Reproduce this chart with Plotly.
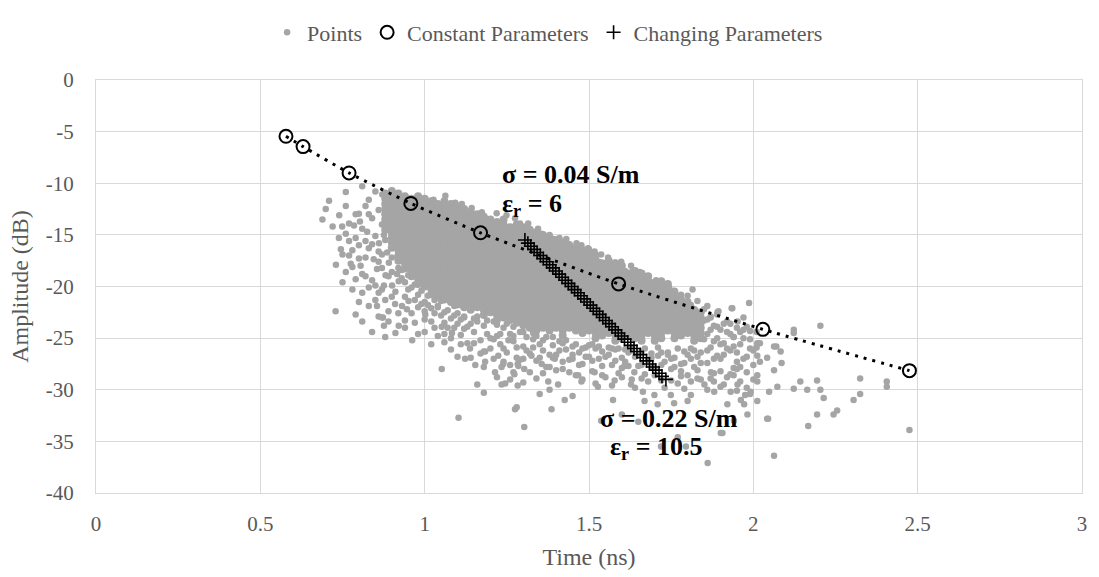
import plotly.graph_objects as go

# ---------------- data ----------------
# Constant-parameter model points
constant_x = [0.578, 0.630, 0.770, 0.958, 1.170, 1.590, 2.029, 2.475]
constant_y = [-5.45, -6.45, -9.0, -11.95, -14.8, -19.75, -24.15, -28.15]

# Changing-parameter model points
changing_x = [1.305, 1.314, 1.323, 1.333, 1.342, 1.352, 1.361, 1.371, 1.380, 1.390, 1.399, 1.409,
              1.418, 1.428, 1.437, 1.447, 1.456, 1.466, 1.475, 1.485, 1.494, 1.504, 1.513, 1.523,
              1.532, 1.542, 1.551, 1.561, 1.570, 1.580, 1.589, 1.599, 1.608, 1.618, 1.627, 1.637,
              1.646, 1.656, 1.665, 1.675, 1.684, 1.694, 1.703, 1.713, 1.722, 1.734]
changing_y = [-15.5, -15.8, -16.1, -16.4, -16.7, -17.0, -17.3, -17.6, -17.9, -18.2, -18.5, -18.8,
              -19.1, -19.4, -19.7, -20.0, -20.3, -20.6, -20.9, -21.2, -21.5, -21.8, -22.1, -22.4,
              -22.7, -23.0, -23.3, -23.6, -23.9, -24.2, -24.5, -24.8, -25.1, -25.4, -25.7, -26.0,
              -26.3, -26.6, -26.9, -27.2, -27.5, -27.8, -28.1, -28.4, -28.7, -29.0]

# Measured points: dense core, read column by column
core_x = [0.88, 0.90, 0.92, 0.94, 0.96, 0.98, 1.00, 1.02, 1.04, 1.06, 1.08, 1.10, 1.12, 1.14, 1.16,
          1.18, 1.20, 1.22, 1.24, 1.26, 1.28, 1.30, 1.32, 1.34, 1.36, 1.38, 1.40, 1.42, 1.44, 1.46,
          1.48, 1.50, 1.52, 1.54, 1.56, 1.58, 1.60, 1.62, 1.64, 1.66, 1.68, 1.70, 1.72, 1.74, 1.76,
          1.78, 1.80, 1.82, 1.84]
core_y = [
    [-11,-11.5,-12,-12.5,-13,-13.5,-14,-14.5],
    [-10.75,-11.25,-11.75,-12.25,-12.75,-13.25,-13.75,-14.25,-14.75,-15.25,-15.75,-16.25],
    [-11,-11.5,-12,-12.5,-13,-13.5,-14,-14.5,-15,-15.5,-16,-16.5,-17,-17.5],
    [-11.25,-11.75,-12.25,-12.75,-13.25,-13.75,-14.25,-14.75,-15.25,-15.75,-16.25,-16.75,-17.25,-17.75,-18.25],
    [-11.5,-12,-12.5,-13,-13.5,-14,-14.5,-15,-15.5,-16,-16.5,-17,-17.5,-18,-18.5,-19],
    [-11.25,-11.75,-12.25,-12.75,-13.25,-13.75,-14.25,-14.75,-15.25,-15.75,-16.25,-16.75,-17.25,-17.75,-18.25,-18.75,-19.25,-19.75],
    [-11.5,-12,-12.5,-13,-13.5,-14,-14.5,-15,-15.5,-16,-16.5,-17,-17.5,-18,-18.5,-19,-19.5,-20],
    [-11.75,-12.25,-12.75,-13.25,-13.75,-14.25,-14.75,-15.25,-15.75,-16.25,-16.75,-17.25,-17.75,-18.25,-18.75,-19.25,-19.75,-20.25,-20.75],
    [-12,-12.5,-13,-13.5,-14,-14.5,-15,-15.5,-16,-16.5,-17,-17.5,-18,-18.5,-19,-19.5,-20,-20.5,-21],
    [-11.75,-12.25,-12.75,-13.25,-13.75,-14.25,-14.75,-15.25,-15.75,-16.25,-16.75,-17.25,-17.75,-18.25,-18.75,-19.25,-19.75,-20.25,-20.75,-21.25],
    [-12,-12.5,-13,-13.5,-14,-14.5,-15,-15.5,-16,-16.5,-17,-17.5,-18,-18.5,-19,-19.5,-20,-20.5,-21,-21.5],
    [-12.25,-12.75,-13.25,-13.75,-14.25,-14.75,-15.25,-15.75,-16.25,-16.75,-17.25,-17.75,-18.25,-18.75,-19.25,-19.75,-20.25,-20.75,-21.25,-21.75],
    [-12.5,-13,-13.5,-14,-14.5,-15,-15.5,-16,-16.5,-17,-17.5,-18,-18.5,-19,-19.5,-20,-20.5,-21,-21.5,-22],
    [-12.75,-13.25,-13.75,-14.25,-14.75,-15.25,-15.75,-16.25,-16.75,-17.25,-17.75,-18.25,-18.75,-19.25,-19.75,-20.25,-20.75,-21.25,-21.75,-22.25],
    [-13,-13.5,-14,-14.5,-15,-15.5,-16,-16.5,-17,-17.5,-18,-18.5,-19,-19.5,-20,-20.5,-21,-21.5,-22],
    [-13.25,-13.75,-14.25,-14.75,-15.25,-15.75,-16.25,-16.75,-17.25,-17.75,-18.25,-18.75,-19.25,-19.75,-20.25,-20.75,-21.25,-21.75,-22.25,-22.75],
    [-13.5,-14,-14.5,-15,-15.5,-16,-16.5,-17,-17.5,-18,-18.5,-19,-19.5,-20,-20.5,-21,-21.5,-22,-22.5],
    [-13.75,-14.25,-14.75,-15.25,-15.75,-16.25,-16.75,-17.25,-17.75,-18.25,-18.75,-19.25,-19.75,-20.25,-20.75,-21.25,-21.75,-22.25,-22.75,-23.25],
    [-13.5,-14,-14.5,-15,-15.5,-16,-16.5,-17,-17.5,-18,-18.5,-19,-19.5,-20,-20.5,-21,-21.5,-22,-22.5,-23],
    [-14.25,-14.75,-15.25,-15.75,-16.25,-16.75,-17.25,-17.75,-18.25,-18.75,-19.25,-19.75,-20.25,-20.75,-21.25,-21.75,-22.25,-22.75,-23.25],
    [-14,-14.5,-15,-15.5,-16,-16.5,-17,-17.5,-18,-18.5,-19,-19.5,-20,-20.5,-21,-21.5,-22,-22.5,-23,-23.5],
    [-14.25,-14.75,-15.25,-15.75,-16.25,-16.75,-17.25,-17.75,-18.25,-18.75,-19.25,-19.75,-20.25,-20.75,-21.25,-21.75,-22.25,-22.75,-23.25,-23.75],
    [-14.5,-15,-15.5,-16,-16.5,-17,-17.5,-18,-18.5,-19,-19.5,-20,-20.5,-21,-21.5,-22,-22.5,-23,-23.5,-24],
    [-14.75,-15.25,-15.75,-16.25,-16.75,-17.25,-17.75,-18.25,-18.75,-19.25,-19.75,-20.25,-20.75,-21.25,-21.75,-22.25,-22.75,-23.25,-23.75,-24.25],
    [-15,-15.5,-16,-16.5,-17,-17.5,-18,-18.5,-19,-19.5,-20,-20.5,-21,-21.5,-22,-22.5,-23,-23.5,-24],
    [-15.25,-15.75,-16.25,-16.75,-17.25,-17.75,-18.25,-18.75,-19.25,-19.75,-20.25,-20.75,-21.25,-21.75,-22.25,-22.75,-23.25,-23.75,-24.25],
    [-15.5,-16,-16.5,-17,-17.5,-18,-18.5,-19,-19.5,-20,-20.5,-21,-21.5,-22,-22.5,-23,-23.5,-24],
    [-15.75,-16.25,-16.75,-17.25,-17.75,-18.25,-18.75,-19.25,-19.75,-20.25,-20.75,-21.25,-21.75,-22.25,-22.75,-23.25,-23.75,-24.25,-24.75],
    [-16,-16.5,-17,-17.5,-18,-18.5,-19,-19.5,-20,-20.5,-21,-21.5,-22,-22.5,-23,-23.5,-24],
    [-16.25,-16.75,-17.25,-17.75,-18.25,-18.75,-19.25,-19.75,-20.25,-20.75,-21.25,-21.75,-22.25,-22.75,-23.25,-23.75,-24.25],
    [-16.5,-17,-17.5,-18,-18.5,-19,-19.5,-20,-20.5,-21,-21.5,-22,-22.5,-23,-23.5,-24,-24.5],
    [-16.75,-17.25,-17.75,-18.25,-18.75,-19.25,-19.75,-20.25,-20.75,-21.25,-21.75,-22.25,-22.75,-23.25,-23.75,-24.25],
    [-17,-17.5,-18,-18.5,-19,-19.5,-20,-20.5,-21,-21.5,-22,-22.5,-23,-23.5,-24,-24.5,-25],
    [-17.75,-18.25,-18.75,-19.25,-19.75,-20.25,-20.75,-21.25,-21.75,-22.25,-22.75,-23.25,-23.75,-24.25,-24.75],
    [-17.5,-18,-18.5,-19,-19.5,-20,-20.5,-21,-21.5,-22,-22.5,-23,-23.5,-24,-24.5],
    [-17.75,-18.25,-18.75,-19.25,-19.75,-20.25,-20.75,-21.25,-21.75,-22.25,-22.75,-23.25,-23.75,-24.25,-24.75,-25.25],
    [-18,-18.5,-19,-19.5,-20,-20.5,-21,-21.5,-22,-22.5,-23,-23.5,-24,-24.5,-25],
    [-18.75,-19.25,-19.75,-20.25,-20.75,-21.25,-21.75,-22.25,-22.75,-23.25,-23.75,-24.25,-24.75],
    [-18.5,-19,-19.5,-20,-20.5,-21,-21.5,-22,-22.5,-23,-23.5,-24,-24.5,-25],
    [-18.75,-19.25,-19.75,-20.25,-20.75,-21.25,-21.75,-22.25,-22.75,-23.25,-23.75,-24.25,-24.75,-25.25],
    [-19,-19.5,-20,-20.5,-21,-21.5,-22,-22.5,-23,-23.5,-24,-24.5],
    [-19.75,-20.25,-20.75,-21.25,-21.75,-22.25,-22.75,-23.25,-23.75,-24.25,-24.75,-25.25],
    [-19.5,-20,-20.5,-21,-21.5,-22,-22.5,-23,-23.5,-24,-24.5,-25],
    [-19.75,-20.25,-20.75,-21.25,-21.75,-22.25,-22.75,-23.25,-23.75,-24.25],
    [-20.5,-21,-21.5,-22,-22.5,-23,-23.5,-24,-24.5,-25],
    [-21.25,-21.75,-22.25,-22.75,-23.25,-23.75,-24.25,-24.75],
    [-21.5,-22,-22.5,-23,-23.5,-24,-24.5],
    [-22.25,-22.75,-23.25,-23.75,-24.25,-24.75,-25.25],
    [-22.5,-23,-23.5,-24,-24.5,-25],
]

# Measured points: left lobe
left_x = [0.709, 0.699, 0.689, 0.760, 0.810, 0.850, 0.871, 0.800, 0.803, 0.785, 0.749, 0.739, 0.745, 0.770,
          0.800, 0.825, 0.830, 0.861, 0.876, 0.886, 0.770, 0.775, 0.805, 0.810, 0.845, 0.855, 0.891, 0.881,
          0.916, 0.840, 0.810, 0.876, 0.901, 0.921, 0.850, 0.880, 0.855, 0.870, 0.876, 0.911, 0.931, 0.951,
          0.946, 0.911, 0.729, 0.790, 0.873, 0.921, 0.962, 1.002, 0.820, 0.840, 0.860, 0.830, 0.790, 0.760,
          0.780, 0.820, 0.860, 0.790, 0.830, 0.860, 0.900, 0.890, 0.920, 0.940, 0.820, 0.870, 0.730, 0.760,
          0.850, 0.870, 0.800,
          0.72, 0.74, 0.75, 0.76, 0.77, 0.78, 0.79, 0.80, 0.81, 0.82, 0.83, 0.84, 0.85, 0.86, 0.87, 0.88,
          0.89, 0.90, 0.91, 0.92, 0.83, 0.86, 0.89, 0.78, 0.81, 0.84, 0.88, 0.75, 0.90, 0.87]
left_y = [-11.7, -12.5, -13.5, -10.85, -10.3, -10.8, -11.1, -12.95, -13.7, -14.1, -14.2, -15.3, -16.4, -15.6,
          -16.0, -14.7, -16.3, -15.8, -15.0, -16.7, -17.0, -17.8, -18.0, -18.8, -17.35, -18.3, -17.7, -18.9,
          -18.8, -19.4, -20.6, -19.9, -19.9, -19.5, -21.3, -21.3, -21.9, -23.0, -23.8, -24.5, -21.9, -21.4,
          -22.2, -20.5, -22.4, -22.7, -23.0, -23.8, -25.2, -22.7, -12.2, -13.4, -12.6, -11.6, -13.0, -14.9,
          -16.5, -17.2, -16.6, -19.3, -20.1, -20.6, -21.0, -22.4, -22.6, -23.3, -15.6, -14.0, -17.9, -18.6,
          -15.1, -18.2, -21.5,
          -14.2, -13.1, -16.9, -12.2, -13.9, -18.1, -15.3, -17.3, -14.4, -19.0, -13.0, -15.9, -19.9, -17.6,
          -20.3, -15.5, -19.0, -17.2, -21.7, -18.2, -21.9, -22.9, -23.4, -20.3, -23.4, -24.4, -24.9, -19.6,
          -18.6, -16.9]

# Measured points: upper edge (near / above the dotted curve)
upper_x = [1.027, 1.063, 1.093, 1.113, 1.143, 1.174, 1.219, 1.249, 1.275, 1.315, 1.345, 1.356, 1.380, 1.410,
           1.431, 1.462, 1.477, 1.497, 1.517, 1.537, 1.558, 1.598, 1.628, 1.633, 1.654, 1.674, 1.684, 1.704,
           1.744, 1.760, 1.800, 1.815, 1.830, 1.860, 1.891, 1.936, 1.987, 1.870, 1.890, 1.952, 1.970, 1.940,
           2.123, 2.123, 2.204, 1.720, 1.780, 1.580, 1.500, 1.440, 1.390, 1.290,
           1.53, 1.61, 1.69, 1.77, 1.73, 1.81, 1.65]
upper_y = [-11.6, -11.2, -11.9, -12.0, -12.4, -12.8, -12.9, -13.1, -13.4, -13.9, -14.4, -14.9, -15.0, -15.3,
           -15.4, -15.8, -16.0, -16.3, -16.6, -16.9, -17.2, -17.6, -18.0, -18.5, -18.6, -19.0, -19.6, -19.4,
           -20.1, -20.4, -20.9, -20.3, -21.4, -21.9, -22.5, -22.1, -21.6, -23.0, -23.9, -23.4, -24.2, -24.9,
           -24.2, -24.5, -23.8, -20.0, -20.8, -17.7, -16.4, -15.9, -15.4, -13.9,
           -17.6, -18.5, -19.6, -21.0, -20.6, -21.8, -19.1]

# Measured points: lower band below the core
lower_x = [0.93, 0.95, 0.94, 0.96, 0.98, 0.99, 1.00, 1.01, 1.02, 1.03, 1.04, 1.05, 1.06, 1.07, 1.08, 1.09,
           1.10, 1.11, 1.12, 1.13, 1.14, 1.15, 1.16, 1.17, 1.18, 1.19, 1.20, 1.21, 1.22, 1.23, 1.24, 1.25,
           1.26, 1.27, 1.28, 1.29, 1.30, 1.31, 1.32, 1.33, 1.34, 1.35, 1.36, 1.37, 1.38, 1.39, 1.40, 1.41,
           1.42, 1.43, 1.44, 1.45, 1.46, 1.47, 1.48, 1.49, 1.50, 1.51, 1.52, 1.53, 1.54, 1.55, 1.56, 1.57,
           1.58, 1.59, 1.60, 1.61, 1.62, 1.63, 1.64, 1.65, 1.66, 1.67, 1.68, 1.69, 1.70, 1.71, 1.72, 1.73,
           1.74, 1.75, 1.76, 1.77, 1.78, 1.79, 1.80, 1.81, 1.82, 1.83, 1.84,
           0.97, 1.00, 1.03, 1.06, 1.09, 1.12, 1.15, 1.18, 1.21, 1.24, 1.27, 1.30, 1.33, 1.36, 1.39, 1.42,
           1.45, 1.48, 1.51, 1.54, 1.57, 1.60, 1.63, 1.66, 1.69, 1.72, 1.75, 1.78, 1.81, 1.84]
lower_y = [-19.2, -20.3, -21.0, -22.6, -20.8, -21.7, -23.2, -20.9, -22.1, -24.0, -21.9, -22.8, -23.5, -22.3,
           -25.0, -22.8, -23.6, -24.7, -22.9, -25.5, -23.6, -24.4, -22.9, -25.2, -23.8, -24.6, -26.0, -23.4,
           -24.8, -25.6, -24.0, -26.4, -24.6, -25.3, -26.9, -24.4, -25.8, -24.9, -26.5, -25.1, -27.2, -25.6,
           -26.2, -24.9, -27.8, -25.7, -26.6, -25.3, -28.0, -26.1, -27.1, -25.8, -28.6, -26.4, -27.5, -25.9,
           -26.8, -28.2, -26.0, -27.0, -26.3, -28.8, -26.6, -27.6, -26.1, -28.4, -26.9, -27.3, -26.4, -29.0,
           -26.8, -27.7, -26.3, -28.5, -27.1, -26.5, -27.9, -26.7, -29.1, -27.3, -26.4, -28.0, -26.9, -29.4,
           -27.5, -26.3, -28.6, -27.0, -26.2, -28.1, -27.4,
           -19.8, -21.5, -21.3, -24.6, -24.0, -24.1, -23.1, -26.3, -25.1, -27.3, -23.9, -27.0, -24.5, -28.4,
           -26.9, -25.5, -27.0, -26.0, -25.6, -27.7, -26.0, -27.9, -26.2, -28.9, -27.8, -26.4, -27.0, -28.7,
           -26.0, -26.4]

# Measured points: second pass over the medium-density band
mid_x = [0.93, 0.94, 0.95, 0.96, 0.97, 0.98, 0.99, 1.00, 1.01, 1.02, 1.03, 1.04, 1.05, 1.06, 1.07, 1.08,
         1.09, 1.10, 1.11, 1.12, 0.97, 1.00, 1.04, 1.08, 1.11, 0.94, 0.98, 1.02, 1.06, 1.10,
         1.13, 1.15, 1.16, 1.17, 1.19, 1.20, 1.21, 1.22, 1.23, 1.24, 1.25, 1.26, 1.27, 1.28, 1.29, 1.30,
         1.31, 1.32, 1.33, 1.34, 1.35, 1.36, 1.37, 1.38, 1.39, 1.40, 1.14, 1.18, 1.22, 1.26, 1.30, 1.34, 1.38,
         1.41, 1.42, 1.43, 1.44, 1.45, 1.46, 1.47, 1.48, 1.49, 1.50, 1.51, 1.52, 1.53, 1.54, 1.55, 1.56,
         1.57, 1.58, 1.59, 1.60, 1.61, 1.62, 1.63, 1.64, 1.65, 1.66, 1.67, 1.68, 1.69, 1.70, 1.71, 1.72,
         1.73, 1.74, 1.75, 1.76, 1.77, 1.78, 1.79, 1.80, 1.81, 1.82, 1.83, 1.84,
         1.85, 1.86, 1.87, 1.88, 1.89, 1.90, 1.91, 1.92, 1.93, 1.94, 1.95, 1.96, 1.97, 1.98, 1.99, 2.00,
         2.01, 2.02, 1.86, 1.88, 1.90, 1.92, 1.94, 1.96, 1.98, 1.87, 1.91, 1.95]
mid_y = [-18.4, -19.6, -18.9, -20.1, -21.3, -22.0, -20.4, -22.4, -21.8, -23.4, -22.6, -22.0, -21.4, -22.5,
         -24.0, -23.1, -21.9, -22.6, -23.2, -23.0, -23.5, -24.4, -24.8, -26.1, -25.6, -24.0, -24.6, -25.6,
         -25.4, -26.8,
         -23.9, -25.5, -23.4, -26.5, -23.3, -25.0, -27.0, -23.7, -24.6, -26.0, -23.6, -27.6, -24.8, -25.9,
         -27.1, -24.4, -26.2, -28.3, -25.9, -24.8, -26.9, -25.2, -27.8, -26.6, -24.9, -28.1, -26.9, -27.8,
         -28.8, -29.0, -29.3, -28.9, -30.0,
         -26.2, -27.3, -25.2, -28.3, -26.6, -25.6, -27.6, -29.0, -26.8, -25.7, -27.2, -29.4, -25.8, -28.6,
         -26.8, -25.9, -29.6, -27.2, -26.0, -28.8, -26.1, -27.7, -25.9, -29.8, -26.6, -27.6, -26.0, -29.2,
         -26.9, -28.6, -25.9, -27.6, -29.8, -26.6, -29.1, -27.8, -26.0, -28.2, -27.4, -26.6, -29.2, -27.8,
         -26.8, -29.0,
         -22.2, -23.2, -24.2, -25.3, -22.7, -25.6, -26.6, -24.4, -23.6, -25.8, -26.4, -24.4, -27.0, -23.9,
         -25.1, -26.2, -24.4, -25.5, -26.2, -27.0, -28.2, -26.0, -28.6, -27.8, -29.8, -28.9, -29.5, -30.1]

# Measured points: right end and scattered outliers
sparse_x = [1.85, 1.86, 1.87, 1.88, 1.89, 1.90, 1.91, 1.92, 1.93, 1.94, 1.95, 1.96, 1.97, 1.98, 1.99, 2.00,
            2.01, 1.86, 1.88, 1.90, 1.92, 1.94, 1.96, 1.98, 1.85, 1.89, 1.93, 1.97, 1.99, 1.87, 1.91, 1.95,
            2.02, 2.00, 1.934, 1.894, 2.012, 2.063, 2.070, 2.083, 2.086, 2.012, 2.042, 2.063, 2.012, 2.012,
            2.048, 2.073, 2.123, 2.143, 2.164, 2.194, 2.204, 2.214, 2.325, 2.325, 2.305, 2.255, 2.244, 2.194,
            2.167, 2.045, 2.406, 2.406, 2.475, 1.906, 1.962, 1.975, 1.990, 1.982, 1.941, 2.012, 1.900, 1.930,
            1.950, 1.880, 1.860,
            1.052, 1.103, 1.052, 1.083, 1.123, 1.154, 1.184, 1.138, 1.184, 1.214, 1.234, 1.224, 1.245, 1.283,
            1.275, 1.303, 1.283, 1.303, 1.273, 1.255, 1.234, 1.280, 1.386, 1.426, 1.270, 1.239, 1.285, 1.325,
            1.356, 1.396, 1.406, 1.376, 1.467, 1.477, 1.517, 1.527, 1.537, 1.573, 1.578, 1.608, 1.628, 1.638,
            1.664, 1.669, 1.699, 1.709, 1.749, 1.759, 1.790, 1.800, 1.810, 1.830, 1.851, 1.871, 1.881, 1.901,
            1.921, 1.931, 1.952, 1.972, 1.992, 2.042, 2.063, 1.770, 1.795, 1.861, 1.719, 1.650, 1.600, 1.450,
            1.350, 1.160, 1.180]
sparse_y = [-23.3, -24.6, -25.9, -23.8, -26.7, -24.2, -25.5, -23.4, -26.2, -24.9, -27.3, -25.6, -23.0, -26.8,
            -24.3, -27.6, -25.9, -27.4, -28.4, -27.0, -28.8, -27.9, -29.2, -28.3, -25.1, -25.0, -24.6, -25.0,
            -26.0, -22.9, -23.6, -24.0, -27.3, -29.0, -22.1, -22.4, -25.5, -25.8, -25.8, -26.3, -27.4, -26.7,
            -26.9, -28.1, -28.6, -29.2, -30.2, -29.7, -29.9, -29.2, -30.0, -29.1, -30.0, -30.8, -28.9, -30.4,
            -31.0, -32.0, -32.4, -32.4, -33.5, -32.8, -29.2, -29.7, -33.9, -34.2, -31.0, -30.5, -30.4, -32.4,
            -33.0, -31.1, -29.7, -28.5, -28.0, -29.2, -30.0,
            -28.0, -32.7, -23.9, -24.5, -27.0, -27.6, -27.3, -26.0, -26.3, -28.3, -27.8, -26.7, -29.4, -29.6,
            -31.9, -33.6, -27.5, -28.0, -28.5, -25.2, -29.5, -31.7, -31.9, -31.0, -28.3, -27.5, -27.7, -26.7,
            -27.5, -27.0, -29.5, -29.2, -28.6, -29.2, -28.3, -29.7, -33.0, -31.0, -29.1, -27.7, -29.5, -28.3,
            -30.2, -31.1, -30.5, -31.4, -30.5, -31.3, -29.9, -31.1, -30.5, -28.9, -29.5, -28.3, -30.2, -34.2,
            -31.4, -30.2, -29.5, -31.4, -30.2, -32.8, -36.4, -34.6, -35.5, -37.1, -35.5, -33.1, -32.4, -30.6,
            -30.4, -29.5, -30.3]

x_ticks = [0, 0.5, 1, 1.5, 2, 2.5, 3]
y_ticks = [0, -5, -10, -15, -20, -25, -30, -35, -40]

# ---------------- assemble ----------------
core_px, core_py = [], []
for cx, col in zip(core_x, core_y):
    for v in col:
        core_px.append(cx)
        core_py.append(v)
points_x, points_y = [], []
for xs, ys in [(left_x, left_y), (upper_x, upper_y), (lower_x, lower_y), (mid_x, mid_y),
               (sparse_x, sparse_y)]:
    points_x.extend(xs)
    points_y.extend(ys)

FONT = "Liberation Serif, Times New Roman, serif"
GREY_TXT = "#595959"
PT_GREY = "#a5a5a5"

fig = go.Figure()
# dense core of the "Points" series (slightly larger dots so the mass reads as solid)
fig.add_trace(go.Scatter(
    x=core_px, y=core_py, mode="markers", name="Points", legendgroup="pts", showlegend=False,
    marker=dict(color=PT_GREY, size=8, line=dict(width=0)),
))
fig.add_trace(go.Scatter(
    x=points_x, y=points_y, mode="markers", name="Points", legendgroup="pts",
    marker=dict(color=PT_GREY, size=6.5, line=dict(width=0)),
))
fig.add_trace(go.Scatter(
    x=constant_x, y=constant_y, mode="lines", showlegend=False, hoverinfo="skip",
    line=dict(color="black", width=3, dash="3px,6px", shape="spline", smoothing=0.6),
))
fig.add_trace(go.Scatter(
    x=constant_x, y=constant_y, mode="markers", name="Constant Parameters",
    marker=dict(symbol="circle-open", color="black", size=13, line=dict(width=2, color="black")),
))
fig.add_trace(go.Scatter(
    x=changing_x, y=changing_y, mode="markers", name="Changing Parameters",
    marker=dict(symbol="cross-thin-open", color="black", size=10, line=dict(width=1.6, color="black")),
))

ann_font = dict(family=FONT, size=26, color="black")
fig.add_annotation(x=1.229, y=-9.2, xref="x", yref="y", text="<b>σ = 0.04 S/m</b>",
                   showarrow=False, xanchor="left", yanchor="middle", font=ann_font)
fig.add_annotation(x=1.229, y=-12.1, xref="x", yref="y", text="<b>ε<sub>r</sub> = 6</b>",
                   showarrow=False, xanchor="left", yanchor="middle", font=ann_font)
fig.add_annotation(x=1.527, y=-32.8, xref="x", yref="y", text="<b>σ = 0.22 S/m</b>",
                   showarrow=False, xanchor="left", yanchor="middle", font=ann_font)
fig.add_annotation(x=1.558, y=-35.6, xref="x", yref="y", text="<b>ε<sub>r</sub> = 10.5</b>",
                   showarrow=False, xanchor="left", yanchor="middle", font=ann_font)

axis_common = dict(
    showgrid=True, gridcolor="#d9d9d9", gridwidth=1,
    showline=True, linecolor="#d9d9d9", linewidth=1, mirror=True,
    zeroline=False, ticks="",
    tickfont=dict(family=FONT, size=21, color=GREY_TXT),
)
fig.update_xaxes(range=[0, 3], tickvals=x_ticks, ticktext=[f"{v:g}" for v in x_ticks],
                 title=dict(text="Time (ns)", font=dict(family=FONT, size=24, color=GREY_TXT), standoff=12),
                 ticklabelstandoff=12, **axis_common)
fig.update_yaxes(range=[-40, 0], tickvals=y_ticks, ticktext=[f"{v:g}" for v in y_ticks],
                 title=dict(text="Amplitude (dB)", font=dict(family=FONT, size=24, color=GREY_TXT), standoff=10),
                 ticklabelstandoff=17, **axis_common)

fig.update_layout(
    width=1099, height=577,
    margin=dict(l=96, r=12, t=65, b=83),
    paper_bgcolor="white", plot_bgcolor="white",
    font=dict(family=FONT, color=GREY_TXT),
    showlegend=True,
    legend=dict(orientation="h", x=0.458, xanchor="center", y=1.115, yanchor="middle",
                font=dict(family=FONT, size=22, color=GREY_TXT), bgcolor="rgba(0,0,0,0)",
                itemsizing="trace", itemwidth=30, traceorder="normal"),
)

fig.write_html("out.html")
